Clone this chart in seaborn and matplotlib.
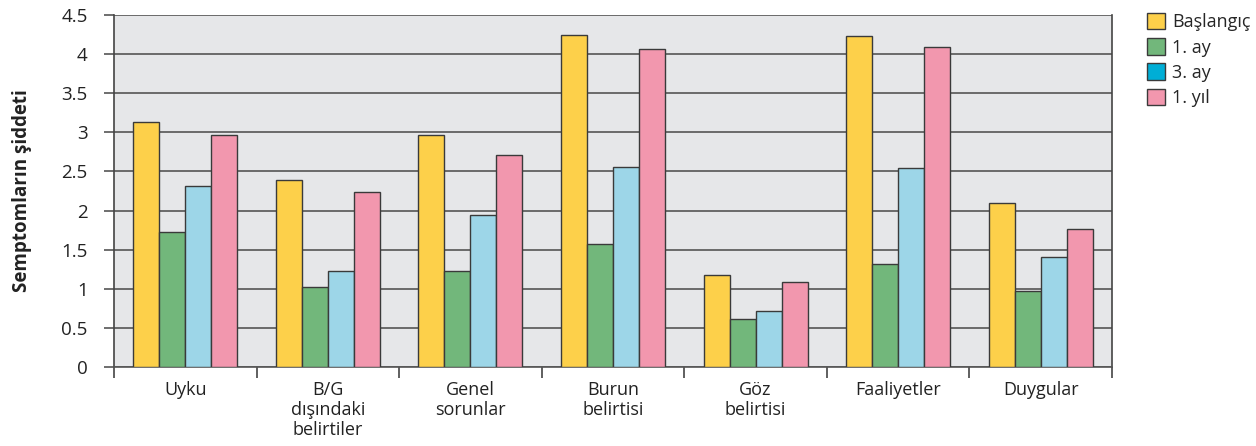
import numpy as np
import pandas as pd
import seaborn as sns
import matplotlib
matplotlib.use("Agg")
import matplotlib.pyplot as plt
from matplotlib.patches import Patch
from matplotlib.ticker import FixedLocator, FuncFormatter

categories = ["Uyku", "B/G\ndışındaki\nbelirtiler", "Genel\nsorunlar", "Burun\nbelirtisi",
              "Göz\nbelirtisi", "Faaliyetler", "Duygular"]
series = ["Başlangıç", "1. ay", "3. ay", "1. yıl"]
baslangic = [3.13, 2.39, 2.97, 4.24, 1.17, 4.23, 2.10]
ay1 = [1.72, 1.02, 1.23, 1.57, 0.62, 1.32, 0.97]
ay3 = [2.31, 1.23, 1.94, 2.56, 0.71, 2.54, 1.41]
yil1 = [2.96, 2.24, 2.71, 4.07, 1.09, 4.09, 1.76]
yticks = [0, 0.5, 1, 1.5, 2, 2.5, 3, 3.5, 4, 4.5]

bar_colors = ["#fdd04a", "#72b77b", "#9dd6e8", "#f297ae"]
legend_colors = ["#fdd04a", "#72b77b", "#00aed6", "#f297ae"]

df = pd.DataFrame({
    "kategori": np.repeat(categories, len(series)),
    "seri": series * len(categories),
    "deger": np.ravel(np.column_stack([baslangic, ay1, ay3, yil1])),
})

sns.set_theme(style="white")
plt.rcParams["font.family"] = ["Open Sans", "DejaVu Sans"]

fig = plt.figure(figsize=(12.56, 4.46), dpi=100)
ax = fig.add_axes([114 / 1256, 1 - 367 / 446, (1112 - 114) / 1256, (367 - 15) / 446])
ax.set_facecolor("#e6e7e9")

sns.barplot(data=df, x="kategori", y="deger", hue="seri", order=categories,
            hue_order=series, palette=bar_colors, width=0.73, edgecolor="#3a3a3a",
            linewidth=1.0, saturation=1, ax=ax, legend=False, zorder=3)

ax.set_ylim(0, 4.5)
ax.set_xlim(-0.5, len(categories) - 0.5)
ax.yaxis.set_major_locator(FixedLocator(yticks))
ax.yaxis.set_major_formatter(FuncFormatter(lambda v, p: f"{v:g}"))
ax.set_axisbelow(True)
ax.grid(axis="y", color="#555555", linewidth=1.2, zorder=0)
ax.grid(axis="x", visible=False)

ax.tick_params(axis="y", which="major", length=7, width=1.2, color="#555555",
               labelsize=13.5, labelcolor="#222222", pad=12, left=True)
ax.xaxis.set_minor_locator(FixedLocator(np.arange(-0.5, len(categories), 1.0)))
ax.tick_params(axis="x", which="minor", length=8, width=1.2, color="#444444", bottom=True)
ax.tick_params(axis="x", which="major", length=0, labelsize=13, labelcolor="#222222", pad=10)
for lbl in ax.get_xticklabels():
    lbl.set_linespacing(1.15)
    lbl.set_verticalalignment("top")

for side in ["left", "right"]:
    ax.spines[side].set_visible(True)
    ax.spines[side].set_color("#444444")
    ax.spines[side].set_linewidth(1.2)
ax.spines["top"].set_visible(False)
ax.spines["bottom"].set_color("#555555")
ax.spines["bottom"].set_linewidth(1.2)

ax.set_xlabel("")
ax.set_ylabel("Semptomların şiddeti", fontsize=13.5, fontweight="bold",
              color="#222222", labelpad=21)

handles = [Patch(facecolor=c, edgecolor="#3a3a3a", linewidth=1.0) for c in legend_colors]
fig.legend(handles, series, loc="upper left", bbox_to_anchor=(1140 / 1256, 1 - 6 / 446),
           frameon=False, fontsize=13, handlelength=1.0, handleheight=1.0,
           handletextpad=0.4, labelspacing=0.38, borderaxespad=0)

fig.savefig("out.png", dpi=100)
